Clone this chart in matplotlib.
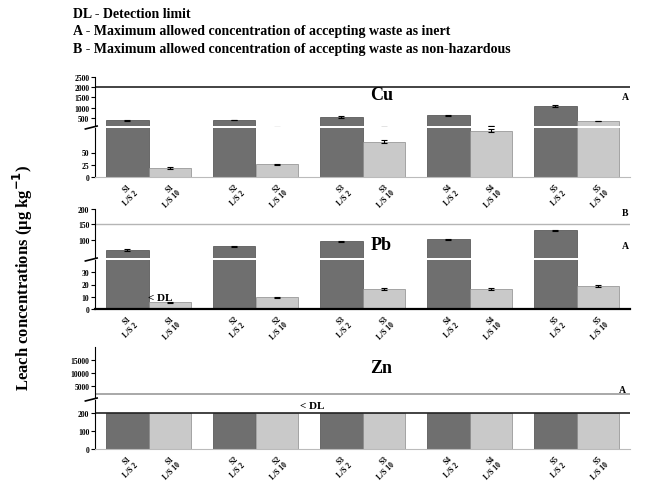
import numpy as np
import matplotlib.pyplot as plt

plt.rcParams['font.family'] = ['Liberation Serif', 'DejaVu Serif']
plt.rcParams['font.weight'] = 'bold'

# samples (dark = raw, light = washed)
grupos = ['S1', 'S2', 'S3', 'S4', 'S5']
rot_escuro = ['S1\nL/S 2', 'S2\nL/S 2', 'S3\nL/S 2', 'S4\nL/S 2', 'S5\nL/S 2']
rot_claro = ['S1\nL/S 10', 'S2\nL/S 10', 'S3\nL/S 10', 'S4\nL/S 10', 'S5\nL/S 10']

# Cu (ug/kg)
cu_escuro = [390, 390, 530, 630, 1060]
cu_claro = [18, 26, 72, 94, 340]
cu_err_e = [25, 20, 40, 30, 45]
cu_err_c = [1.5, 1.5, 3, 3, 12]
cu_A = 2000

# Pb (ug/kg)
pb_escuro = [66, 78, 94, 101, 130]
pb_claro = [5.5, 9.5, 16.5, 16.5, 18.5]
pb_err_e = [2, 2, 2, 2, 3]
pb_err_c = [0.3, 0.6, 0.6, 0.6, 0.8]
pb_B = 150

# Zn (ug/kg) - all below detection limit
zn_DL = 200
zn_escuro = [200, 200, 200, 200, 200]
zn_claro = [200, 200, 200, 200, 200]
zn_A = 2000

ESCURO = '#6f6f6f'
CLARO = '#c9c9c9'
H = 485.0
L, R = 95, 630


def caixa(topo, baixo):
    return [L / 656.0, 1 - baixo / H, (R - L) / 656.0, (baixo - topo) / H]


x = np.arange(len(grupos))
w = 0.4


def barras(ax, escuro, claro, e_err=None, c_err=None):
    ax.bar(x - w / 2, escuro, w, color=ESCURO, edgecolor='#4a4a4a', lw=0.5)
    ax.bar(x + w / 2, claro, w, color=CLARO, edgecolor='#8a8a8a', lw=0.5)
    if e_err is not None:
        ax.errorbar(x - w / 2, escuro, yerr=e_err, fmt='none', ecolor='k',
                    capsize=2, lw=0.8, capthick=0.8)
    if c_err is not None:
        ax.errorbar(x + w / 2, claro, yerr=c_err, fmt='none', ecolor='k',
                    capsize=2, lw=0.8, capthick=0.8)
    ax.set_xlim(-0.5, 4.5)
    for s in ['top', 'right']:
        ax.spines[s].set_visible(False)
    ax.tick_params(axis='y', labelsize=5.5, length=3, width=0.8, pad=1)
    ax.tick_params(axis='x', length=0)


def quebra(ax_cima, ax_baixo):
    ax_cima.spines['bottom'].set_visible(False)
    ax_cima.set_xticks([])
    ax_baixo.spines['top'].set_visible(False)
    ax_baixo.plot([-0.018, 0.004], [0.98, 1.04], transform=ax_baixo.transAxes,
                  color='k', lw=1.2, clip_on=False)


def rotulos(ax):
    pos = np.concatenate([x - w / 2, x + w / 2])
    txt = rot_escuro + rot_claro
    ax.set_xticks(pos)
    ax.set_xticklabels(txt, rotation=45, ha='right', rotation_mode='anchor',
                       fontsize=5.5)


fig = plt.figure(figsize=(6.56, 4.85), dpi=100)

# Cu
cu1 = fig.add_axes(caixa(78, 127))
cu2 = fig.add_axes(caixa(129, 178))
for ax in (cu1, cu2):
    barras(ax, cu_escuro, cu_claro, cu_err_e, cu_err_c)
cu1.set_ylim(100, 2500)
cu1.set_yticks([500, 1000, 1500, 2000, 2500])
cu2.set_ylim(0, 100)
cu2.set_yticks([0, 25, 50])
cu1.axhline(cu_A, color='#222222', lw=1.2)
quebra(cu1, cu2)
rotulos(cu2)
cu2.spines['bottom'].set_color('#bbbbbb')
cu1.text(0.515, 0.56, 'Cu', transform=cu1.transAxes, fontsize=13, fontweight='bold')
cu1.text(0.985, 0.56, 'A', transform=cu1.transAxes, fontsize=7)

# Pb
pb1 = fig.add_axes(caixa(210, 259))
pb2 = fig.add_axes(caixa(261, 310))
for ax in (pb1, pb2):
    barras(ax, pb_escuro, pb_claro, pb_err_e, pb_err_c)
pb1.set_ylim(40, 200)
pb1.set_yticks([100, 150, 200])
pb2.set_ylim(0, 40)
pb2.set_yticks([0, 10, 20, 30])
pb1.axhline(pb_B, color='#b5b5b5', lw=1.0)
quebra(pb1, pb2)
rotulos(pb2)
pb2.spines['bottom'].set_linewidth(1.6)
pb1.text(0.515, 0.18, 'Pb', transform=pb1.transAxes, fontsize=13, fontweight='bold')
pb1.text(0.985, 0.88, 'B', transform=pb1.transAxes, fontsize=7)
pb1.text(0.985, 0.2, 'A', transform=pb1.transAxes, fontsize=7)
pb2.text(0.0, pb_claro[0] + 2, '< DL', fontsize=8)

# Zn
zn1 = fig.add_axes(caixa(348, 399))
zn2 = fig.add_axes(caixa(401, 450))
for ax in (zn1, zn2):
    barras(ax, zn_escuro, zn_claro)
zn1.set_ylim(270, 20000)
zn1.set_yticks([5000, 10000, 15000])
zn2.set_ylim(0, 270)
zn2.set_yticks([0, 100, 200])
zn1.axhline(zn_A, color='#9a9a9a', lw=1.2)
zn2.axhline(zn_DL, color='#222222', lw=1.2)
quebra(zn1, zn2)
rotulos(zn2)
zn2.spines['bottom'].set_color('#bbbbbb')
zn1.text(0.515, 0.5, 'Zn', transform=zn1.transAxes, fontsize=13, fontweight='bold')
zn1.text(0.98, 0.12, 'A', transform=zn1.transAxes, fontsize=7)
zn2.text(1.42, 225, '< DL', fontsize=8)

# legend text and y label
leg = ['DL - Detection limit',
       'A - Maximum allowed concentration of accepting waste as inert',
       'B - Maximum allowed concentration of accepting waste as non-hazardous']
for i, t in enumerate(leg):
    fig.text(73 / 656.0, 1 - (15 + 17 * i) / H, t, fontsize=10,
             fontweight='bold', va='center')

fig.text(23 / 656.0, 1 - 278 / H, 'Leach concentrations (\u03bcg kg$^{-1}$)',
         rotation=90, ha='center', va='center', fontsize=12, fontweight='bold')

plt.savefig('out.png', dpi=100)
